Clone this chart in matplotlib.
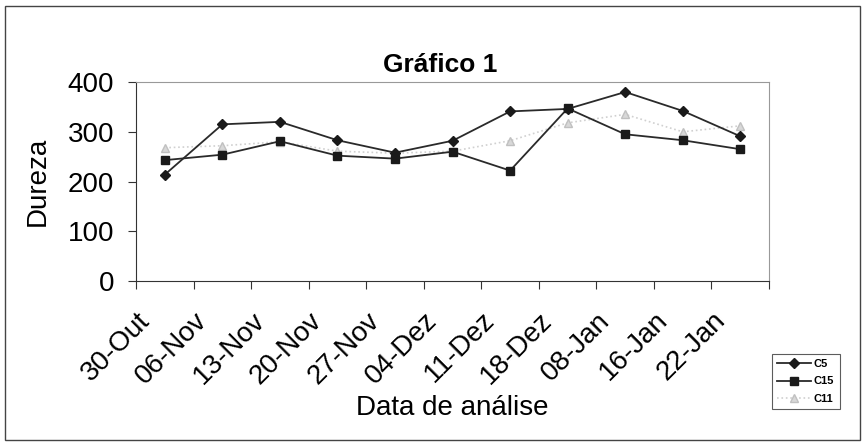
import matplotlib.pyplot as plt
from matplotlib.patches import Rectangle
from matplotlib.transforms import ScaledTranslation
import numpy as np

plt.rcParams['font.family'] = ['Liberation Sans', 'DejaVu Sans']

datas = ["30-Out", "06-Nov", "13-Nov", "20-Nov", "27-Nov", "04-Dez",
         "11-Dez", "18-Dez", "08-Jan", "16-Jan", "22-Jan"]
c5 = [214, 315, 320, 283, 258, 282, 341, 346, 380, 342, 291]
c15 = [243, 254, 281, 252, 246, 260, 222, 347, 295, 283, 265]
c11 = [268, 272, 280, 261, 257, 261, 282, 318, 335, 300, 312]

fig = plt.figure(figsize=(8.67, 4.46), dpi=100)
# moldura do grafico
fig.patches.append(Rectangle((0.006, 0.013), 0.986, 0.973, transform=fig.transFigure,
                             fill=False, edgecolor="#444444", linewidth=1))

ax = fig.add_axes([0.157, 0.370, 0.730, 0.446])
x = np.arange(len(datas))

ax.plot(x, c11, color="#d0d0d0", linestyle=":", linewidth=1.2, marker="^",
        markersize=6, markerfacecolor="#d8d8d8", markeredgecolor="#c0c0c0", label="C11", zorder=2)
ax.plot(x, c15, color="#2a2a2a", linewidth=1.3, marker="s", markersize=6,
        markerfacecolor="#1a1a1a", markeredgecolor="#1a1a1a", label="C15", zorder=3)
ax.plot(x, c5, color="#2a2a2a", linewidth=1.3, marker="D", markersize=5,
        markerfacecolor="#1a1a1a", markeredgecolor="#1a1a1a", label="C5", zorder=4)

ax.set_xlim(-0.5, len(datas) - 0.5)
ax.set_ylim(0, 400)
ax.set_yticks([0, 100, 200, 300, 400])
ax.set_xticks(np.arange(-0.5, len(datas)), minor=False)
ax.set_xticklabels([])
ax.set_xticks(x, minor=True)
ax.set_xticklabels(datas, minor=True, rotation=45, ha="right", va="top", fontsize=20)
ax.tick_params(axis="x", which="minor", length=0, pad=19)
ax.tick_params(axis="x", which="major", length=6, direction="out", color="#333333")
ax.tick_params(axis="y", length=6, pad=10, direction="out", labelsize=20, color="#333333")
off = ScaledTranslation(-0.10, 0, fig.dpi_scale_trans)
for lab in ax.xaxis.get_minorticklabels():
    lab.set_transform(lab.get_transform() + off)

for s in ["top", "right"]:
    ax.spines[s].set_color("#999999")
    ax.spines[s].set_linewidth(0.8)
for s in ["left", "bottom"]:
    ax.spines[s].set_color("#333333")

fig.text(0.5075, 1 - 72 / 446, "Gráfico 1", fontsize=19, fontweight="bold",
         ha="center", va="baseline")
ax.set_ylabel("Dureza", fontsize=20, labelpad=12)
fig.text(452 / 867, 1 - 415 / 446, "Data de análise", fontsize=20,
         ha="center", va="baseline")

h, l = ax.get_legend_handles_labels()
order = [2, 1, 0]
leg = fig.legend([h[i] for i in order], [l[i] for i in order], loc="upper left",
                 bbox_to_anchor=(0.890, 0.207), bbox_transform=fig.transFigure,
                 fontsize=8, frameon=True, fancybox=False, edgecolor="#333333",
                 handlelength=3, borderpad=0.5, labelspacing=0.65, handletextpad=0.3,
                 borderaxespad=0)
leg.get_frame().set_linewidth(0.8)
for t in leg.get_texts():
    t.set_fontweight("bold")

fig.savefig("out.png", dpi=100, facecolor="white")
